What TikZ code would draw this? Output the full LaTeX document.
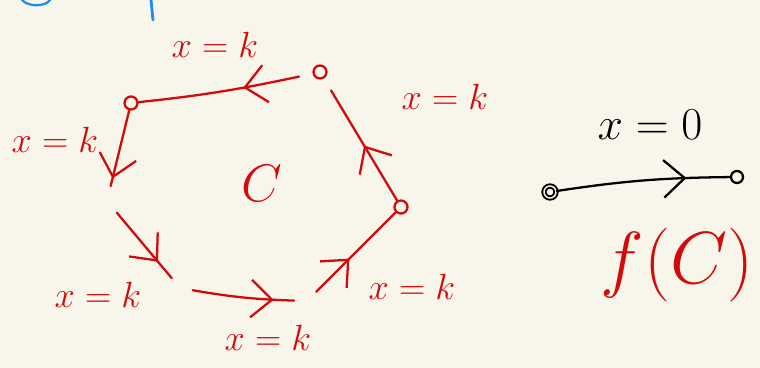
\RequirePackage{fix-cm}
\documentclass[tikz,border=0pt]{standalone}
\usetikzlibrary{arrows.meta, decorations.markings}

\definecolor{paper}{RGB}{248,246,235}
\definecolor{ink}{RGB}{212,10,10}
\definecolor{pen}{RGB}{30,140,245}

\begin{document}
\begin{tikzpicture}[
    x=0.02cm, y=-0.02cm,
    stroke/.style={draw=ink, line width=1.3pt, line cap=round},
    vertex/.style={circle, draw=ink, line width=1.3pt, minimum size=0.26cm, inner sep=0pt},
    gap/.style={circle, minimum size=0.5cm, inner sep=0pt},
    lbl/.style={text=ink, font=\huge},
    midarrow/.style={postaction={decorate}, decoration={markings,
        mark=at position #1 with {\arrow{Straight Barb[length=4.2mm, width=7.5mm, line width=1.3pt]}}}}
]

% Sheet
\fill[paper] (0,0) rectangle (760,368);
\useasboundingbox (0,0) rectangle (760,368);

% Leftover pen strokes at the top edge
\draw[pen, line width=1.3pt, line cap=round] (22,0) .. controls (28,7) and (45,7) .. (50,0);
\draw[pen, line width=1.6pt, line cap=round] (151,0) -- (153,20);

%%%%%%%%%%%%%%%%%%%%%
% Cycle C
%%%%%%%%%%%%%%%%%%%%%
\node[vertex] (tl) at (131,103) {};
\node[vertex, outer sep=0.3cm] (tr) at (320,72) {};
\node[vertex] (r) at (401,207) {};
\node[gap, minimum size=0.6cm] (l) at (107,201) {};
\node[gap] (bl) at (180,288) {};
\node[gap] (br) at (307,301) {};

\draw[stroke, midarrow=0.9] (tl) -- (l);
\draw[stroke, midarrow=0.75] (l) -- (bl);
\draw[stroke, midarrow=0.8] (bl) to[bend right=4] (br);
\draw[stroke, midarrow=0.42] (br) -- (r);
\draw[stroke, midarrow=0.5] (r) -- (tr);
\draw[stroke, midarrow=0.35] (tr) to[bend left=3] (tl);

\node[text=ink, font=\fontsize{30}{30}\selectfont] (cyc) at (262,183) {$C$};

% Edge labels
\node[lbl] (kTop) at (215,45) {$x = k$};
\node[lbl] (kLeft) at (55,140) {$x = k$};
\node[lbl] (kRight) at (445,97) {$x = k$};
\node[lbl] (kLowL) at (98,295) {$x = k$};
\node[lbl] (kBot) at (268,338) {$x = k$};
\node[lbl] (kLowR) at (412,287) {$x = k$};

%%%%%%%%%%%%%%%%%%%%%
% Single edge and f(C)
%%%%%%%%%%%%%%%%%%%%%
\node[font=\fontsize{26}{26}\selectfont] (zero) at (650,125) {$x = 0$};
\node[circle, draw, line width=1.1pt, minimum size=0.24cm, inner sep=0pt,
      double=paper, double distance=0.8pt] (src) at (550,192) {};
\node[circle, draw, line width=1.3pt, minimum size=0.24cm, inner sep=0pt] (dst) at (737,177) {};
\draw[line width=1.3pt, line cap=round, midarrow=0.75] (src) to[bend left=4] (dst);

\node[text=ink, font=\fontsize{42}{42}\selectfont] (fc) at (677,265) {$f(C)$};

\end{tikzpicture}
\end{document}
